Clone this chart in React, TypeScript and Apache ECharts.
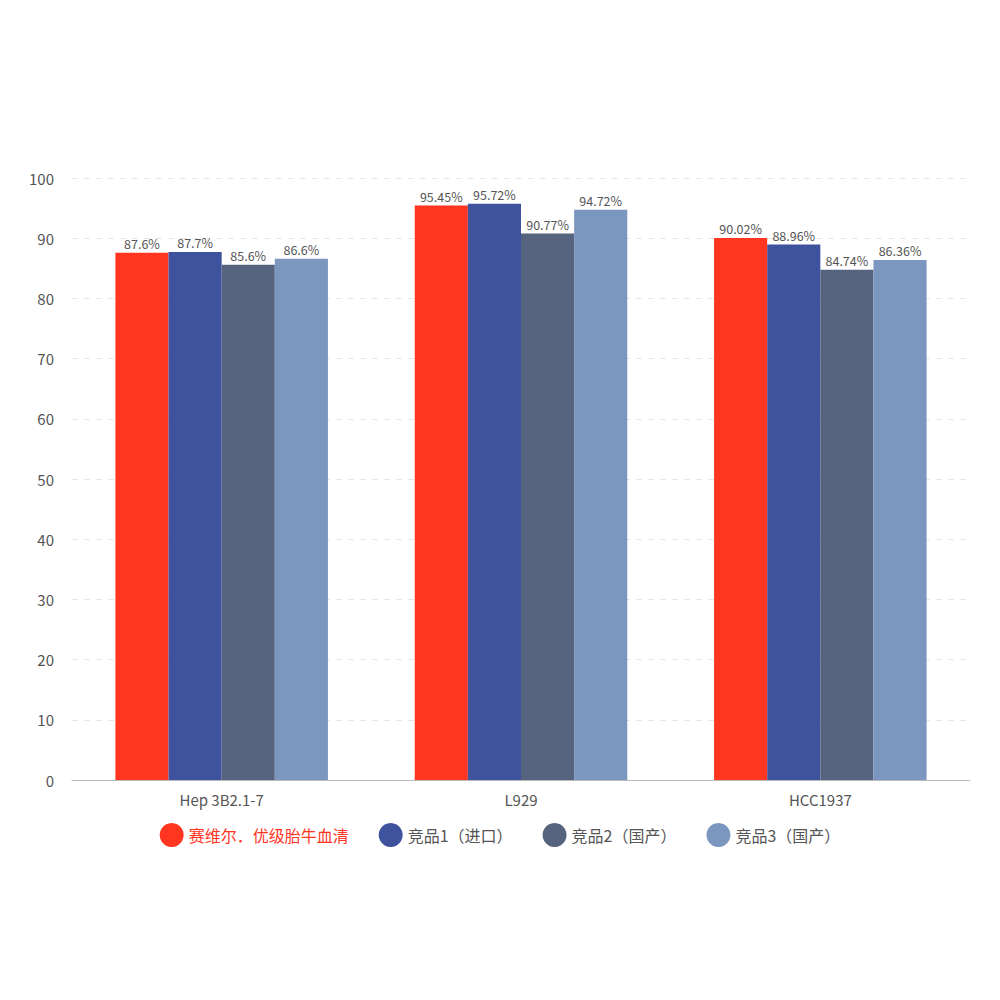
import React, { useEffect, useRef } from "react";
import * as echarts from "echarts";

const categories = ["Hep 3B2.1-7", "L929", "HCC1937"];
const seriesNames = ["赛维尔．优级胎牛血清", "竞品1（进口）", "竞品2（国产）", "竞品3（国产）"];
const s1 = [87.6, 95.45, 90.02];
const s2 = [87.7, 95.72, 88.96];
const s3 = [85.6, 90.77, 84.74];
const s4 = [86.6, 94.72, 86.36];
const labels1 = ["87.6%", "95.45%", "90.02%"];
const labels2 = ["87.7%", "95.72%", "88.96%"];
const labels3 = ["85.6%", "90.77%", "84.74%"];
const labels4 = ["86.6%", "94.72%", "86.36%"];
const colors = ["#FF361F", "#3F529D", "#55637F", "#7B96BF"];

export default function App() {
  const ref = useRef<HTMLDivElement>(null);
  useEffect(() => {
    const chart = echarts.init(ref.current!, null, { renderer: "svg" });
    const values = [s1, s2, s3, s4];
    const labs = [labels1, labels2, labels3, labels4];
    chart.setOption({
      animation: false,
      textStyle: { fontFamily: "'Noto Sans CJK SC', 'Noto Sans', sans-serif" },
      grid: { left: 72, right: 30, top: 178, bottom: 220 },
      legend: {
        bottom: 148,
        left: "center",
        icon: "circle",
        itemWidth: 24,
        itemHeight: 24,
        itemGap: 30,
        textStyle: { fontSize: 16, color: "#555" },
        data: seriesNames.map((n, i) => ({
          name: n,
          textStyle: i === 0 ? { color: "#FF361F" } : { color: "#555" },
        })),
      },
      xAxis: {
        type: "category",
        data: categories,
        axisLine: { lineStyle: { color: "#bbb" } },
        axisTick: { alignWithLabel: true, lineStyle: { color: "#bbb" } },
        axisLabel: { color: "#555", fontSize: 15, margin: 12 },
      },
      yAxis: {
        type: "value",
        min: 0,
        max: 100,
        interval: 10,
        axisLine: { show: false },
        axisTick: { show: false },
        axisLabel: { color: "#555", fontSize: 15, margin: 18 },
        splitLine: { lineStyle: { color: "#e6e6e6", type: [6, 6] } },
      },
      series: values.map((v, i) => ({
        name: seriesNames[i],
        type: "bar",
        data: v,
        barGap: "0%",
        barCategoryGap: "29%",
        itemStyle: { color: colors[i] },
        label: {
          show: true,
          position: "top",
          distance: 3,
          color: "#555",
          fontSize: 12.5,
          formatter: (p: any) => labs[i][p.dataIndex],
        },
      })),
    });
    return () => chart.dispose();
  }, []);
  return (
    <div
      ref={ref}
      style={{ position: "fixed", left: 0, top: 0, width: 1000, height: 1000, background: "#fff" }}
    />
  );
}
